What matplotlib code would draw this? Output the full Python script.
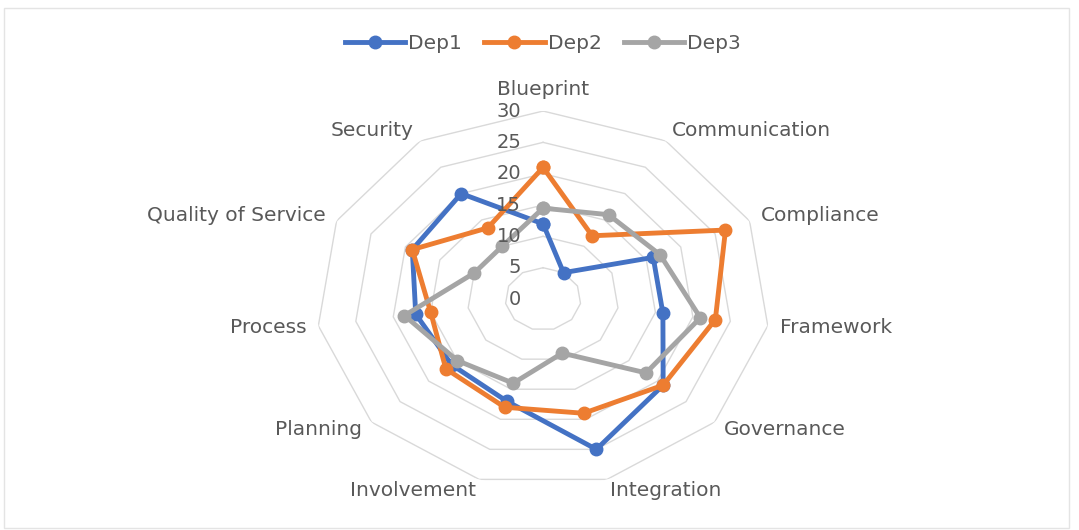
import numpy as np
import matplotlib
matplotlib.use('Agg')
import matplotlib.pyplot as plt
from matplotlib.transforms import offset_copy
from matplotlib.patches import Rectangle

categories = ['Blueprint', 'Communication', 'Compliance', 'Framework', 'Governance',
              'Integration', 'Involvement', 'Planning', 'Process',
              'Quality of Service', 'Security']
dep1 = [12, 5, 16, 16, 21, 25, 17, 16, 17, 19, 20]
dep2 = [21, 12, 26.5, 23, 21, 19, 18, 17, 15, 19, 13.5]
dep3 = [14.5, 16, 17, 21, 18, 9, 14, 15, 18.5, 10, 10]
series = {'Dep1': dep1, 'Dep2': dep2, 'Dep3': dep3}
colors = {'Dep1': '#4472C4', 'Dep2': '#ED7D31', 'Dep3': '#A5A5A5'}
ticks = [0, 5, 10, 15, 20, 25, 30]

plt.rcParams['font.family'] = ['DejaVu Sans']
text_color = '#595959'

fig = plt.figure(figsize=(10.79, 5.3), dpi=100)
fig.patch.set_facecolor('white')
fig.patches.append(Rectangle((4 / 1079, 2 / 530), 1065 / 1079, 520 / 530,
                             transform=fig.transFigure, fill=False,
                             edgecolor='#e4e4e4', lw=1))

ax = fig.add_axes([0.2929, 0.0811, 0.4208, 0.7094], projection='polar')
ax.set_aspect('auto')
ax.set_theta_zero_location('N')
ax.set_theta_direction(-1)
ax.set_ylim(0, 30)
ax.grid(False)
ax.set_xticks([])
ax.set_yticks([])
ax.spines['polar'].set_visible(False)
ax.patch.set_visible(False)

n = len(categories)
angles = np.linspace(0, 2 * np.pi, n, endpoint=False)
closed = np.append(angles, angles[0])

# polygon rings
for t in ticks[1:]:
    ax.plot(closed, [t] * (n + 1), color='#d9d9d9', lw=1.0, zorder=1)

for name, vals in series.items():
    v = list(vals) + [vals[0]]
    ax.plot(closed, v, color=colors[name], lw=3.5, marker='o', markersize=9,
            label=name, zorder=3)

# value labels along the Blueprint axis
for t in ticks:
    tr = offset_copy(ax.transData, fig=fig, x=-22, y=0, units='dots')
    ax.text(0, t, str(t), transform=tr, ha='right', va='center',
            fontsize=14, color=text_color, zorder=4)

# category labels
for ang, lab in zip(angles, categories):
    s, c = np.sin(ang), np.cos(ang)
    tr = offset_copy(ax.transData, fig=fig, x=12 * s, y=12 * c, units='dots')
    if s > 0.05:
        ha = 'left'
    elif s < -0.05:
        ha = 'right'
    else:
        ha = 'center'
    va = 'bottom' if c > 0.99 else 'center'
    ax.text(ang, 30, lab, transform=tr, ha=ha, va=va, fontsize=14.5,
            color=text_color)

fig.legend(loc='upper center', bbox_to_anchor=(0.503, 0.97), ncol=3,
           frameon=False, fontsize=14.5, handlelength=3.0, handletextpad=0.15,
           columnspacing=1.1, labelcolor=text_color)

fig.savefig('out.png', dpi=100)
